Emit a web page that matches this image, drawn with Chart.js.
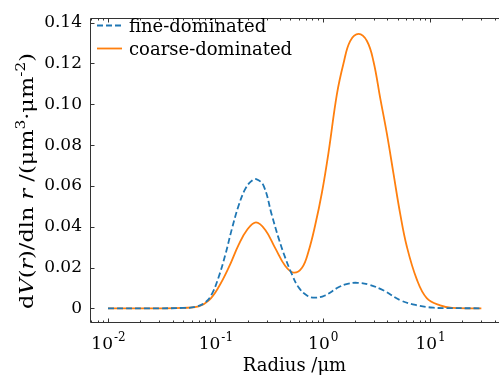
<!DOCTYPE html>
<html>
<head>
<meta charset="utf-8">
<script src="https://cdn.jsdelivr.net/npm/chart.js@4.4.1/dist/chart.umd.min.js"></script>
<style>
    html, body { margin: 0; padding: 0; background: #fff; }
    #wrap { width: 499px; height: 382px; }
</style>
</head>
<body>
<div id="wrap"><canvas id="chart" width="499" height="382"></canvas></div>
<script>
// radius in um, dV/dln r
const fineRadius = [0.01, 0.03, 0.05, 0.065, 0.081, 0.093, 0.107, 0.124, 0.143, 0.165, 0.19, 0.215, 0.24, 0.281, 0.336, 0.388, 0.448, 0.516, 0.595, 0.713, 0.85, 1.05, 1.4, 1.7, 2.1, 2.7, 3.7, 5.3, 7.5, 10.7, 15, 30];
const fineValues = [0, 0, 0.0002, 0.0007, 0.003, 0.0071, 0.0151, 0.0264, 0.0392, 0.0505, 0.0585, 0.0622, 0.0633, 0.0601, 0.0456, 0.0344, 0.0247, 0.0167, 0.0103, 0.0063, 0.0052, 0.0063, 0.0103, 0.012, 0.0125, 0.0116, 0.0087, 0.0039, 0.0015, 0.0003, 0.0001, 0];

const coarseRadius = [0.01, 0.03, 0.05, 0.07, 0.087, 0.107, 0.133, 0.165, 0.197, 0.239, 0.292, 0.361, 0.448, 0.535, 0.641, 0.738, 0.851, 0.984, 1.13, 1.355, 1.56, 1.8, 2.16, 2.58, 2.97, 3.43, 3.96, 4.56, 5.26, 6.06, 7.5, 9.3, 12.4, 16, 30];
const coarseValues = [0, 0, 0.0002, 0.001, 0.0039, 0.0103, 0.0199, 0.0312, 0.0384, 0.0421, 0.0384, 0.0295, 0.0207, 0.0175, 0.0199, 0.028, 0.0408, 0.0569, 0.0761, 0.105, 0.12, 0.131, 0.1345, 0.131, 0.121, 0.103, 0.0855, 0.066, 0.0464, 0.0304, 0.0143, 0.005, 0.0014, 0.0002, 0];

const xDecades = [0.01, 0.1, 1, 10];
const xExponents = ["-2", "-1", "0", "1"];
const yTickValues = [0, 0.02, 0.04, 0.06, 0.08, 0.10, 0.12, 0.14];
const seriesNames = ["fine-dominated", "coarse-dominated"];

const FONT = "DejaVu Serif";
const AXIS = "#333";

function toPoints(xs, ys) {
    return xs.map((x, i) => ({ x: x, y: ys[i] }));
}

// spines, inward ticks, x labels with exponents, titles and the legend
const framePlugin = {
    id: "frame",
    afterDraw(chart) {
        const ctx = chart.ctx;
        const a = chart.chartArea;
        const x = chart.scales.x;
        const y = chart.scales.y;
        const L = Math.round(a.left) + 0.5, T = Math.round(a.top) + 0.5, B = Math.round(a.bottom) - 0.5;
        ctx.save();
        ctx.strokeStyle = AXIS;
        ctx.lineWidth = 1;
        ctx.beginPath();
        ctx.moveTo(a.right, T); ctx.lineTo(L, T); ctx.lineTo(L, B); ctx.lineTo(a.right, B);
        ctx.stroke();

        // y ticks
        ctx.beginPath();
        yTickValues.forEach(v => {
            const py = Math.round(y.getPixelForValue(v)) + 0.5;
            ctx.moveTo(L, py); ctx.lineTo(L + 4, py);
        });
        // x major + minor ticks
        xDecades.concat([0.001]).forEach(d => {
            for (let k = 1; k <= 9; k++) {
                const v = d * k;
                if (v < x.min || v > x.max) continue;
                const px = Math.round(x.getPixelForValue(v)) + 0.5;
                const len = k === 1 ? 4 : 2;
                ctx.moveTo(px, B); ctx.lineTo(px, B - len);
                ctx.moveTo(px, T); ctx.lineTo(px, T + len);
            }
        });
        ctx.stroke();

        // x tick labels 10^n
        ctx.fillStyle = "#000";
        ctx.textBaseline = "alphabetic";
        ctx.textAlign = "left";
        xDecades.forEach((d, i) => {
            const px = x.getPixelForValue(d);
            ctx.font = "17px '" + FONT + "'";
            const wBase = ctx.measureText("10").width;
            ctx.font = "12px '" + FONT + "'";
            const wExp = ctx.measureText(xExponents[i]).width;
            const start = px - (wBase + wExp) / 2;
            ctx.font = "17px '" + FONT + "'";
            ctx.fillText("10", start, 349);
            ctx.font = "12px '" + FONT + "'";
            ctx.fillText(xExponents[i], start + wBase + 1, 341);
        });

        // x title
        ctx.font = "18px '" + FONT + "'";
        ctx.textAlign = "center";
        ctx.fillText("Radius /\u03bcm", (a.left + a.right) / 2, 371);

        // y title with italic parts and superscripts
        const segs = [
            { t: "d" }, { t: "V", it: true }, { t: "(" }, { t: "r", it: true }, { t: ")/dln " },
            { t: "r", it: true }, { t: " /(\u03bcm" }, { t: "3", sup: true }, { t: "\u00b7\u03bcm" },
            { t: "-2", sup: true }, { t: ")" }
        ];
        const fontFor = s => (s.it ? "italic " : "") + (s.sup ? "13px" : "19px") + " '" + FONT + "'";
        let total = 0;
        segs.forEach(s => { ctx.font = fontFor(s); s.w = ctx.measureText(s.t).width; total += s.w; });
        ctx.translate(33, 181);
        ctx.rotate(-Math.PI / 2);
        ctx.scale(1.18, 1);
        ctx.textAlign = "left";
        let cx = -total / 2;
        segs.forEach(s => {
            ctx.font = fontFor(s);
            ctx.fillText(s.t, cx, s.sup ? -8 : 0);
            cx += s.w;
        });
        ctx.setTransform(1, 0, 0, 1, 0, 0);

        // legend
        const rows = [25.5, 48.5];
        chart.data.datasets.forEach((ds, i) => {
            ctx.strokeStyle = ds.borderColor;
            ctx.lineWidth = ds.borderWidth;
            ctx.setLineDash(ds.borderDash || []);
            ctx.beginPath();
            ctx.moveTo(97, rows[i]); ctx.lineTo(122, rows[i]);
            ctx.stroke();
            ctx.setLineDash([]);
            ctx.fillStyle = "#000";
            ctx.font = "18px '" + FONT + "'";
            ctx.textAlign = "left";
            ctx.fillText(ds.label, 129, rows[i] + 6.5);
        });
        ctx.restore();
    }
};

new Chart(document.getElementById("chart"), {
    type: "line",
    data: {
        datasets: [
            {
                label: seriesNames[0],
                data: toPoints(fineRadius, fineValues),
                borderColor: "#1f77b4",
                borderWidth: 1.8,
                borderDash: [6, 3],
                pointRadius: 0,
                tension: 0.4,
                fill: false
            },
            {
                label: seriesNames[1],
                data: toPoints(coarseRadius, coarseValues),
                borderColor: "#ff7f0e",
                borderWidth: 1.8,
                pointRadius: 0,
                tension: 0.4,
                fill: false
            }
        ]
    },
    options: {
        responsive: false,
        animation: false,
        devicePixelRatio: 1,
        layout: { padding: { top: 13, right: 0, left: 0, bottom: 0 } },
        plugins: {
            legend: { display: false },
            tooltip: { enabled: false }
        },
        scales: {
            x: {
                type: "logarithmic",
                min: 0.0068,
                max: 43.8,
                grid: { display: false, drawTicks: false },
                border: { display: false },
                ticks: { display: false },
                afterFit: s => { s.height = 59; }
            },
            y: {
                min: -0.0072,
                max: 0.1422,
                grid: { display: false, drawTicks: false },
                border: { display: false },
                ticks: {
                    stepSize: 0.02,
                    includeBounds: false,
                    padding: 8,
                    color: "#000",
                    font: { family: FONT, size: 17 },
                    callback: v => (Math.abs(v) < 1e-9 ? "0" : v.toFixed(2))
                },
                afterFit: s => { s.width = 90; }
            }
        }
    },
    plugins: [framePlugin]
});
</script>
</body>
</html>
